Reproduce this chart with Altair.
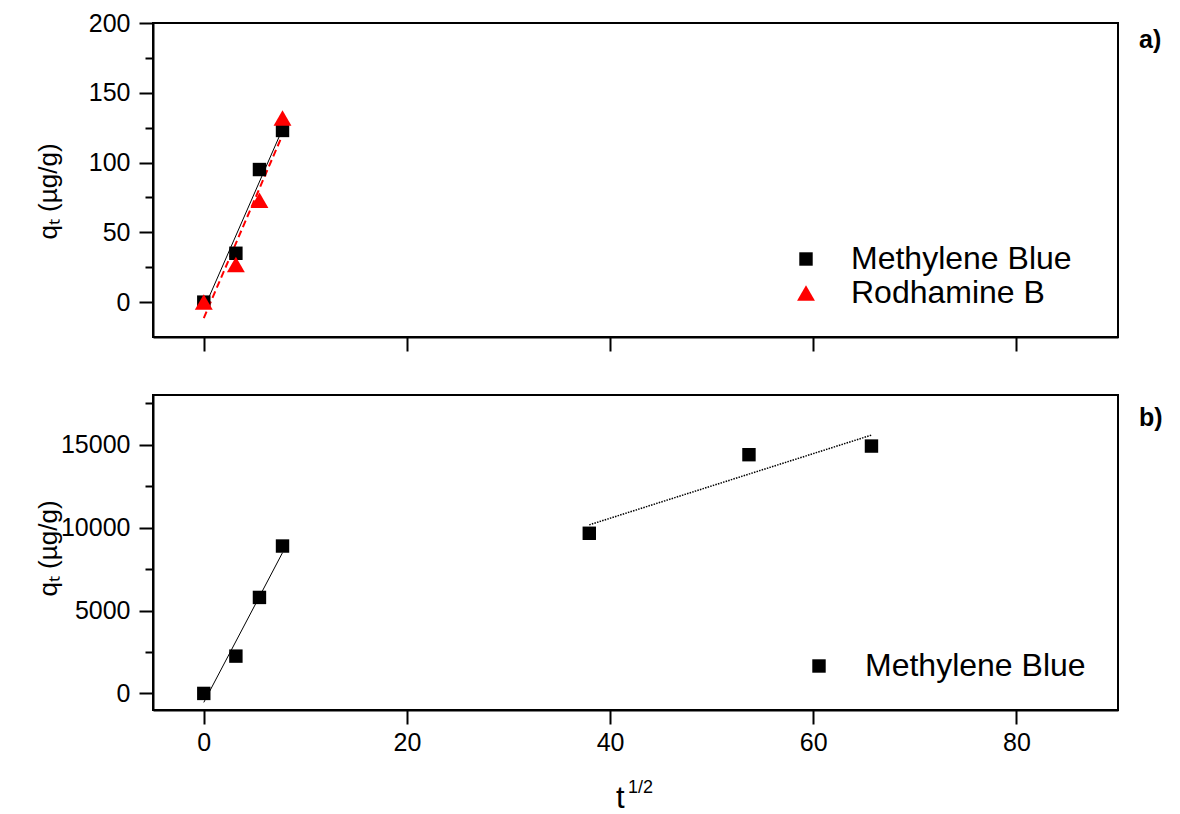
import altair as alt
import pandas as pd

# ---------------- data ----------------
sqrt_t_top = [0.0, 3.16, 5.48, 7.75]
mb_top = [0, 35, 95, 123]
rb_top = [0, 27, 73, 132]

sqrt_t_bottom = [0.0, 3.16, 5.48, 7.75, 37.95, 53.67, 65.73]
mb_bottom = [0, 2250, 5790, 8890, 9660, 14400, 14920]
segment_bottom = ["early", "early", "early", "early", "late", "late", "late"]

series_names = ["Methylene Blue", "Rodhamine B"]
x_ticks = [0, 20, 40, 60, 80]
y_top_major = [0, 50, 100, 150, 200]
y_top_minor = [25, 75, 125, 175]
y_bot_major = [0, 5000, 10000, 15000]
y_bot_minor = [2500, 7500, 12500, 17500]

panel_labels = ["a)", "b)"]
y_title = "qₜ (µg/g)"

# ---------------- tables ----------------
df_top = pd.DataFrame({
    "x": sqrt_t_top + sqrt_t_top,
    "y": mb_top + rb_top,
    "series": [series_names[0]] * len(sqrt_t_top) + [series_names[1]] * len(sqrt_t_top),
})
df_bot = pd.DataFrame({
    "x": sqrt_t_bottom,
    "y": mb_bottom,
    "series": [series_names[0]] * len(sqrt_t_bottom),
    "segment": segment_bottom,
})

FONT = "Liberation Sans"
W = 965
H_TOP = 314
H_BOT = 315

xscale = alt.Scale(domain=[-5, 90], nice=False, zero=False)
ytop_scale = alt.Scale(domain=[-25, 200], nice=False, zero=False)
ybot_scale = alt.Scale(domain=[-1000, 18000], nice=False, zero=False)

x_axis_top = alt.Axis(values=x_ticks, labels=False, tickSize=14, title=None, grid=False)
x_axis_bot = alt.Axis(values=x_ticks, tickSize=14, title=None, grid=False, labelPadding=6)


def major_y_axis(values, title_y):
    return alt.Axis(values=values, format="d", title=y_title, titleFont=FONT, titleFontSize=26,
                    titleFontWeight="normal", titleColor="black", titleX=-92, titleY=title_y,
                    titleAngle=270, titleAlign="center", titleBaseline="bottom",
                    tickSize=14, labelPadding=9, grid=False, orient="left")


def minor_y_axis(values):
    return alt.Axis(values=values, labels=False, tickSize=8, domain=False, title=None,
                    grid=False, orient="left")


# ---------------- top panel ----------------
top_color = alt.Scale(domain=series_names, range=["#000000", "#ff0000"])
top_shape = alt.Scale(domain=series_names, range=["square", "triangle-up"])
top_size = alt.Scale(domain=series_names, range=[180, 320])
legend_top = alt.Legend(title=None, orient="none", legendX=637, legendY=220,
                        labelFont=FONT, labelFontSize=32, labelColor="black", labelLimit=0,
                        labelOffset=29, rowPadding=2, symbolStrokeWidth=0)

pts_top = alt.Chart(df_top).mark_point(filled=True, opacity=1).encode(
    x=alt.X("x:Q", scale=xscale, axis=x_axis_top),
    y=alt.Y("y:Q", scale=ytop_scale, axis=major_y_axis(y_top_major, 168)),
    color=alt.Color("series:N", scale=top_color, legend=legend_top),
    shape=alt.Shape("series:N", scale=top_shape, legend=legend_top),
    size=alt.Size("series:N", scale=top_size, legend=legend_top),
)

fit_mb_top = alt.Chart(df_top).transform_filter(
    alt.datum.series == series_names[0]
).transform_regression("x", "y").mark_line(color="black", strokeWidth=1).encode(
    x=alt.X("x:Q", scale=xscale, axis=x_axis_top),
    y=alt.Y("y:Q", scale=ytop_scale, axis=None),
)
fit_rb_top = alt.Chart(df_top).transform_filter(
    alt.datum.series == series_names[1]
).transform_regression("x", "y").mark_line(color="#ff0000", strokeWidth=2, strokeDash=[7, 4]).encode(
    x=alt.X("x:Q", scale=xscale, axis=x_axis_top),
    y=alt.Y("y:Q", scale=ytop_scale, axis=None),
)
minor_top = alt.Chart(df_top).mark_point(opacity=0).encode(
    x=alt.X("x:Q", scale=xscale, axis=x_axis_top),
    y=alt.Y("y:Q", scale=ytop_scale, axis=minor_y_axis(y_top_minor)),
)
label_a = alt.Chart(alt.Data(values=[{"t": panel_labels[0]}])).mark_text(
    font=FONT, fontSize=25, fontWeight="bold", align="left", baseline="alphabetic", color="black"
).encode(text="t:N", x=alt.value(W + 21), y=alt.value(25))

top = alt.layer(fit_mb_top, fit_rb_top, pts_top, minor_top, label_a).resolve_axis(
    y="independent"
).properties(width=W, height=H_TOP)

# ---------------- bottom panel ----------------
bot_color = alt.Scale(domain=series_names[:1], range=["#000000"])
bot_shape = alt.Scale(domain=series_names[:1], range=["square"])
legend_bot = alt.Legend(title=None, orient="none", legendX=650, legendY=255,
                        labelFont=FONT, labelFontSize=32, labelColor="black", labelLimit=0,
                        labelOffset=30, rowPadding=2, symbolStrokeWidth=0, symbolSize=180)

pts_bot = alt.Chart(df_bot).mark_point(filled=True, opacity=1, size=180).encode(
    x=alt.X("x:Q", scale=xscale, axis=x_axis_bot),
    y=alt.Y("y:Q", scale=ybot_scale, axis=major_y_axis(y_bot_major, 153)),
    color=alt.Color("series:N", scale=bot_color, legend=legend_bot),
    shape=alt.Shape("series:N", scale=bot_shape, legend=legend_bot),
)
fit_early = alt.Chart(df_bot).transform_filter(
    alt.datum.segment == "early"
).transform_regression("x", "y").mark_line(color="black", strokeWidth=1).encode(
    x=alt.X("x:Q", scale=xscale, axis=x_axis_bot),
    y=alt.Y("y:Q", scale=ybot_scale, axis=None),
)
fit_late = alt.Chart(df_bot).transform_filter(
    alt.datum.segment == "late"
).transform_regression("x", "y").mark_line(color="black", strokeWidth=1.5, strokeDash=[1.5, 1.2]).encode(
    x=alt.X("x:Q", scale=xscale, axis=x_axis_bot),
    y=alt.Y("y:Q", scale=ybot_scale, axis=None),
)
minor_bot = alt.Chart(df_bot).mark_point(opacity=0).encode(
    x=alt.X("x:Q", scale=xscale, axis=x_axis_bot),
    y=alt.Y("y:Q", scale=ybot_scale, axis=minor_y_axis(y_bot_minor)),
)
label_b = alt.Chart(alt.Data(values=[{"t": panel_labels[1]}])).mark_text(
    font=FONT, fontSize=25, fontWeight="bold", align="left", baseline="alphabetic", color="black"
).encode(text="t:N", x=alt.value(W + 21), y=alt.value(31))
xt_main = alt.Chart(alt.Data(values=[{"t": "t"}])).mark_text(
    font=FONT, fontSize=31, align="left", baseline="alphabetic", color="black"
).encode(text="t:N", x=alt.value(463), y=alt.value(H_BOT + 98))
xt_sup = alt.Chart(alt.Data(values=[{"t": "1/2"}])).mark_text(
    font=FONT, fontSize=18, align="left", baseline="alphabetic", color="black"
).encode(text="t:N", x=alt.value(475), y=alt.value(H_BOT + 83))

bottom = alt.layer(fit_early, fit_late, pts_bot, minor_bot, label_b, xt_main, xt_sup).resolve_axis(
    y="independent"
).properties(width=W, height=H_BOT)

chart = alt.vconcat(top, bottom, spacing=41).resolve_scale(
    color="independent", shape="independent", size="independent", y="independent"
).resolve_legend(
    color="independent", shape="independent", size="independent"
).properties(
    padding={"left": 26, "top": 2, "right": 5, "bottom": 2},
    background="white",
).configure_view(
    stroke="black", strokeWidth=2
).configure_axis(
    labelFont=FONT, labelFontSize=25, labelColor="black", labelPadding=6,
    tickColor="black", tickWidth=2, domainColor="black", domainWidth=2, grid=False,
)

chart.save("out.html", embed_options={"renderer": "svg", "actions": False})
